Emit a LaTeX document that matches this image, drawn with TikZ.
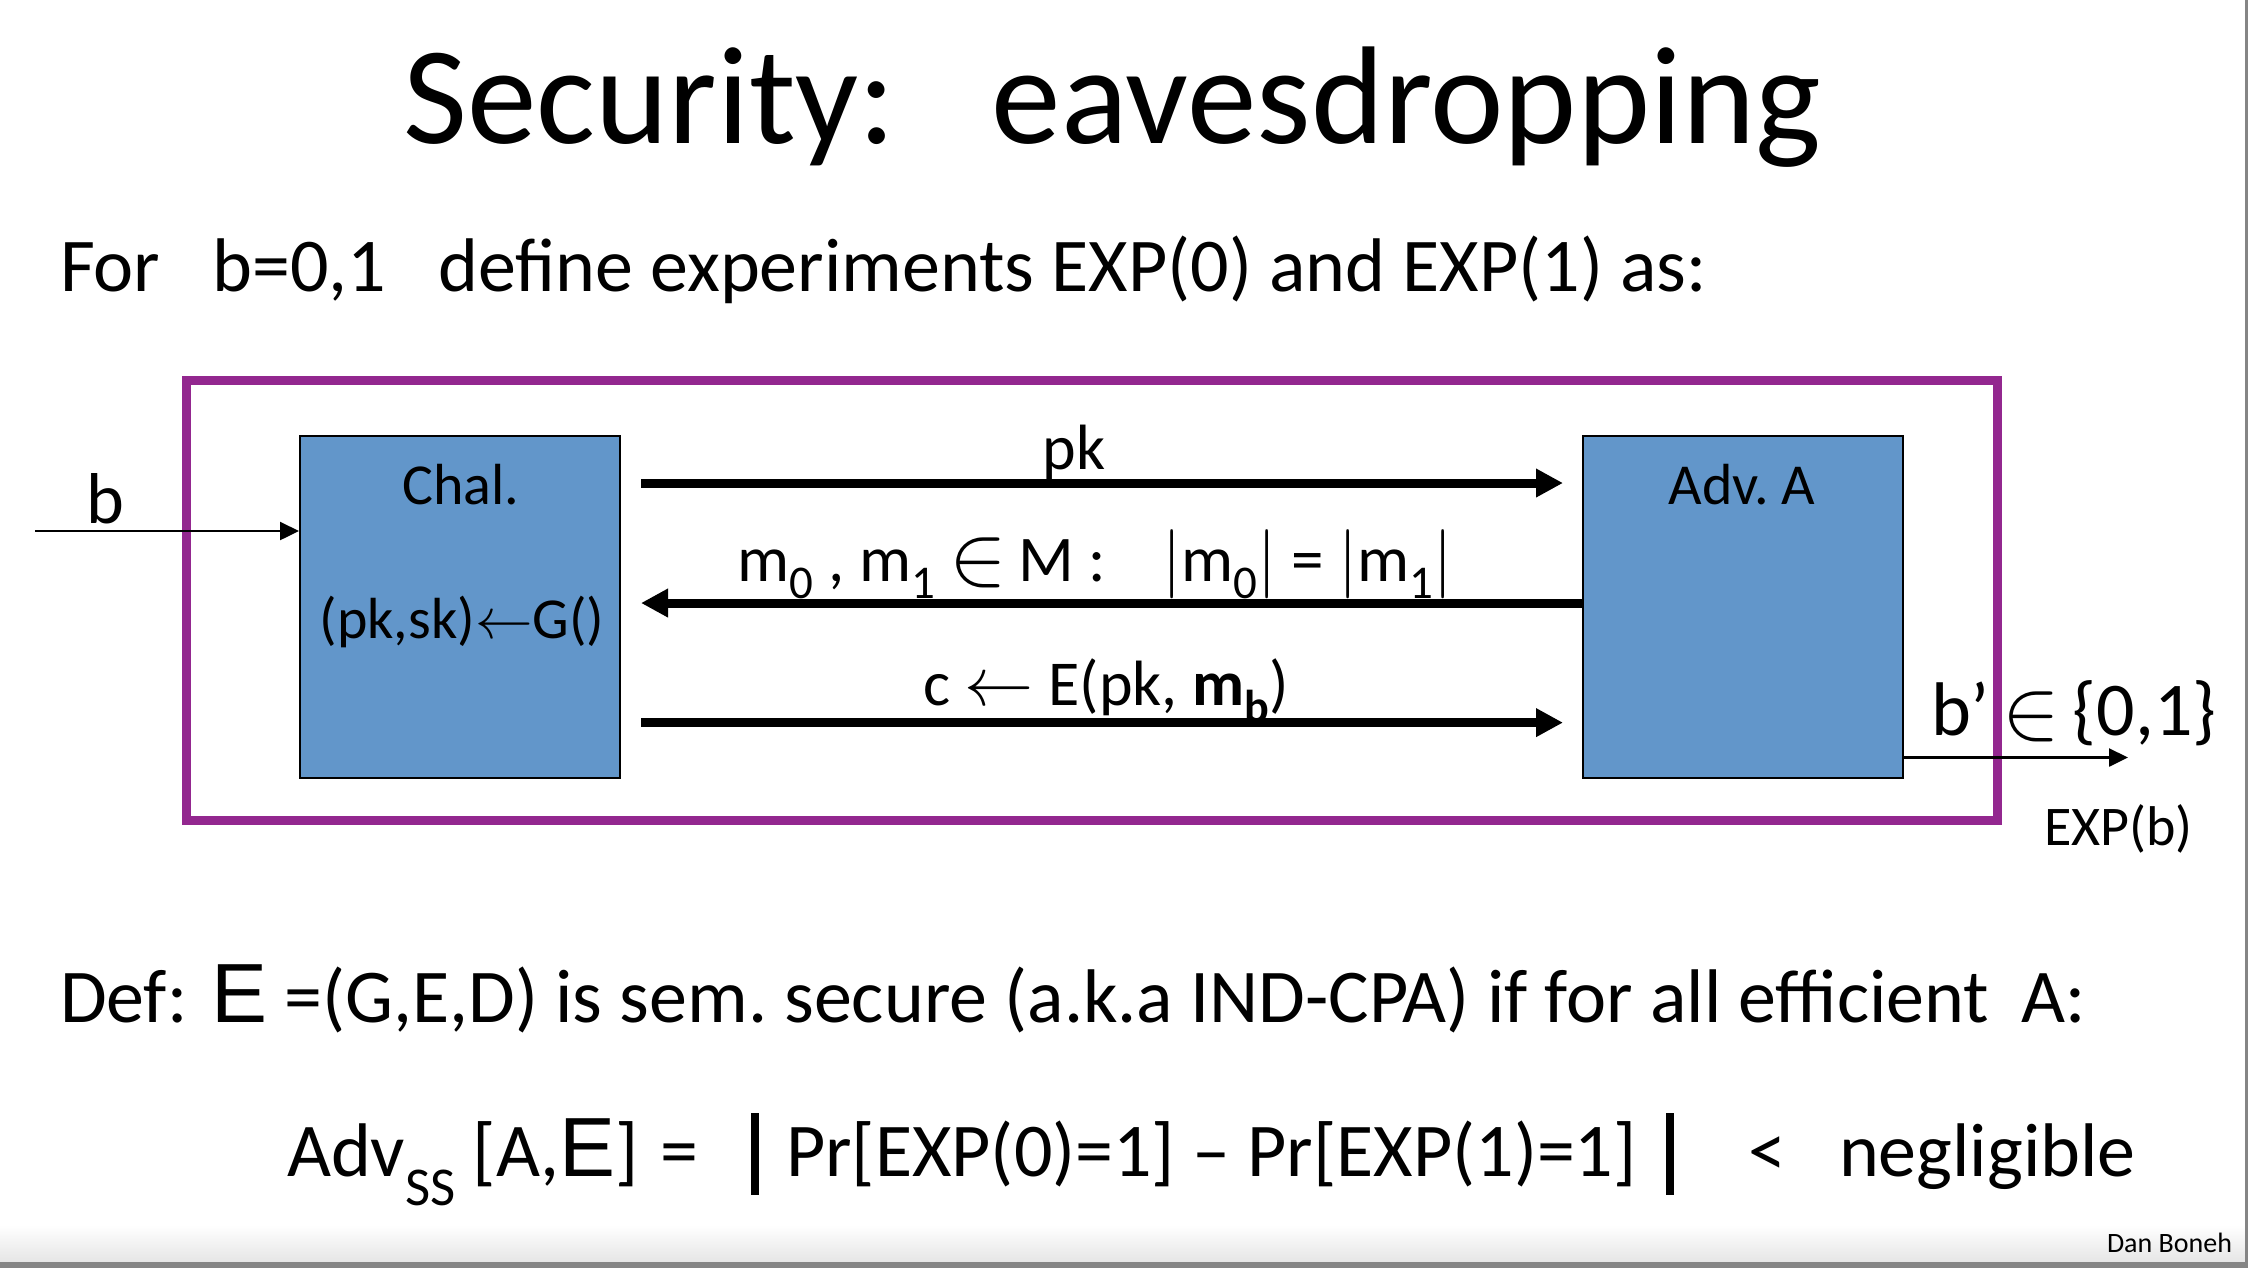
\documentclass[tikz,border=0pt]{standalone}
\usepackage{fontspec}
\usepackage{graphicx}
\setmainfont{Carlito}
\newfontfamily\arialf{Liberation Sans}
\usetikzlibrary{arrows.meta}
\definecolor{boxblue}{RGB}{98,150,202}
\definecolor{framepurple}{RGB}{147,39,143}
\newcommand{\lsub}[1]{\raisebox{-0.55ex}{\scalebox{0.72}{#1}}}
\newcommand{\dsub}[1]{\raisebox{-0.8ex}{\scalebox{0.72}{#1}}}
\newcommand{\bigin}{\raisebox{-0.1ex}{\scalebox{1.25}{$\in$}}}
\newcommand{\fsz}[1]{\fontsize{#1}{#1}\selectfont}
\frenchspacing
\begin{document}
\begin{tikzpicture}[x=0.25pt,y=-0.25pt,
  txt/.style={inner sep=0pt, outer sep=0pt},
  partybox/.style={draw=black, line width=0.5pt, fill=boxblue, minimum width=80pt, minimum height=85.5pt, inner sep=0pt},
  framebox/.style={draw=framepurple, line width=2.25pt, minimum width=452.75pt, minimum height=110pt, inner sep=0pt},
  bigarrow/.style={line width=2.25pt, -{Triangle[length=6.75pt,width=6.75pt]}},
  thinarrow/.style={line width=0.6pt, -{Triangle[length=4.75pt,width=4.5pt]}},
  bigbar/.style={line width=2pt}
]
\useasboundingbox (0,0) rectangle (2248,1268);
\fill[white] (0,0) rectangle (2248,1268);
\shade[top color=white,bottom color=black!10] (0,1225) rectangle (2245,1262);
\fill[black!48] (0,1262) rectangle (2248,1268);
\fill[black!48] (2245,0) rectangle (2248,1268);

% title and intro
\node[txt, anchor=base, font=\fsz{34.8pt}] (title) at (1112,143) {Security:\hspace{24pt}eavesdropping};
\node[txt, anchor=base west, font=\fsz{19pt}] (intro) at (60,291) {For\hspace{13pt}b=0,1\hspace{13pt}define experiments EXP(0) and EXP(1) as:};

% frame and boxes
\node[framebox] (frame) at (1091.5,600) {};
\node[partybox] (chal) at (460,607) {};
\node[partybox] (adv) at (1743,607) {};
\node[txt, anchor=base, font=\fsz{14.5pt}] (chaltxt) at (461,504) {Chal.};
\node[txt, anchor=base, font=\fsz{14.5pt}] (gentxt) at (462,638) {(pk,sk)$\leftarrow$G()};
\node[txt, anchor=base, font=\fsz{14.5pt}] (advtxt) at (1742,504) {Adv. A};

% messages
\draw[bigarrow, shorten <=5pt, shorten >=4.75pt] ([yshift=-12pt]chal.north east) -- ([yshift=-12pt]adv.north west);
\draw[bigarrow, shorten >=5pt] ([yshift=-42pt]adv.north west) -- ([yshift=-42pt]chal.north east);
\draw[bigarrow, shorten <=5pt, shorten >=4.75pt] ([yshift=-71.9pt]chal.north east) -- ([yshift=-71.9pt]adv.north west);
\node[txt, anchor=base, font=\fsz{16pt}] (pklbl) at (1074,469) {pk};
\node[txt, anchor=base, font=\fsz{16.3pt}] (mlbl) at (1095,581) {m\lsub{0} , m\lsub{1} \bigin\,M :\hspace{14pt}$|$m\lsub{0}$|$ = $|$m\lsub{1}$|$};
\node[txt, anchor=base, font=\fsz{16pt}] (clbl) at (1106,705) {c $\leftarrow$ E(pk, \textbf{m\lsub{b}})};

% input and output
\coordinate (bin) at (35,531);
\draw[thinarrow] (bin) -- (chal.west |- bin);
\node[txt, anchor=base, font=\fsz{18pt}] (blbl) at (105,523) {b};
\coordinate (bout) at (2128,757.5);
\draw[thinarrow] (adv.east |- bout) -- (bout);
\node[txt, anchor=base west, font=\fsz{19pt}] (bplbl) at (1931,735) {b’\,\bigin\,\{0,1\}};
\node[txt, anchor=base west, font=\fsz{14pt}] (explbl) at (2044,845) {EXP(b)};

% definition
\node[txt, anchor=base west, font=\fsz{19pt}] (def) at (60,1022) {Def:\hspace{6pt}{\arialf\fsz{21pt}E} =(G,E,D) is sem. secure (a.k.a IND-CPA) if for all efficient\hspace{8pt}A:};
\node[txt, anchor=base west, font=\fsz{19pt}] (advl) at (287,1176) {Adv\dsub{SS} [A,{\arialf\fsz{21pt}E}]};
\node[txt, anchor=base, font=\fsz{19pt}] (eq) at (679,1176) {=};
\coordinate (bar1t) at (755,1113);
\coordinate (bar1b) at (755,1195);
\draw[bigbar] (bar1t) -- (bar1b);
\node[txt, anchor=base west, font=\fsz{19pt}] (prs) at (786,1176) {Pr[EXP(0)=1] – Pr[EXP(1)=1]};
\coordinate (bar2t) at (1670,1113);
\coordinate (bar2b) at (1670,1195);
\draw[bigbar] (bar2t) -- (bar2b);
\node[txt, anchor=base, font=\fsz{19pt}] (lt) at (1767,1176) {<};
\node[txt, anchor=base west, font=\fsz{19pt}] (negl) at (1839,1176) {negligible};
\node[txt, anchor=base east, font=\fsz{7pt}] (author) at (2232,1252) {Dan Boneh};
\end{tikzpicture}
\end{document}
